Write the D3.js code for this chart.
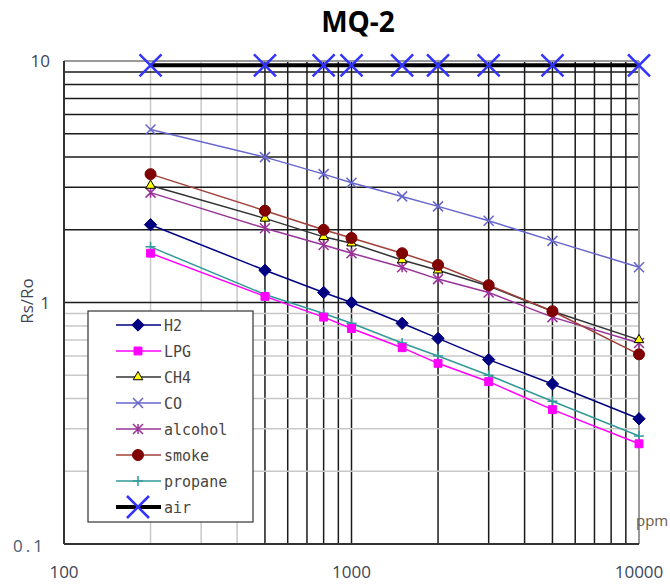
<!DOCTYPE html>
<html>
<head>
<meta charset="utf-8">
<script src="https://cdn.jsdelivr.net/npm/d3@7"></script>
<style>
  body { margin: 0; background: #fff; }
  svg { display: block; }
</style>
</head>
<body>
<svg id="chart" width="670" height="584"></svg>
<script>
// concentration (ppm) where the curves were sampled
const ppm = [200, 500, 800, 1000, 1500, 2000, 3000, 5000, 10000];

// Rs/Ro readings per gas
const h2 = [2.1, 1.36, 1.1, 1.0, 0.82, 0.71, 0.58, 0.46, 0.33];
const lpg = [1.6, 1.06, 0.87, 0.78, 0.65, 0.56, 0.47, 0.36, 0.26];
const ch4 = [3.05, 2.23, 1.87, 1.76, 1.5, 1.36, 1.17, 0.92, 0.70];
const co = [5.2, 4.0, 3.4, 3.13, 2.75, 2.5, 2.18, 1.8, 1.4];
const alcohol = [2.85, 2.03, 1.73, 1.6, 1.4, 1.25, 1.1, 0.87, 0.68];
const smoke = [3.4, 2.4, 2.0, 1.85, 1.6, 1.43, 1.18, 0.92, 0.61];
const propane = [1.7, 1.08, 0.9, 0.82, 0.68, 0.6, 0.5, 0.39, 0.28];
const air = [9.6, 9.6, 9.6, 9.6, 9.6, 9.6, 9.6, 9.6, 9.6];

const seriesNames = ["H2", "LPG", "CH4", "CO", "alcohol", "smoke", "propane", "air"];
const xTicks = [100, 1000, 10000];
const yTicks = [0.1, 1, 10];

let svg = d3.select("#chart");
let margin = { left: 64, right: 31, top: 61, bottom: 40 };
let width = +svg.attr("width");
let height = +svg.attr("height");

let x = d3.scaleLog().domain([100, 10000]).range([margin.left, width - margin.right]);
let y = d3.scaleLog().domain([0.1, 10]).range([height - margin.bottom, margin.top]);

// style of each series: line colour, marker, marker fill/stroke
let styles = {
    "H2": { line: "#000080", width: 1.5, sym: "diamond", fill: "#000080", stroke: "#000080", size: 11 },
    "LPG": { line: "#ff00ff", width: 1.5, sym: "square", fill: "#ff00ff", stroke: "#ff00ff", size: 10 },
    "CH4": { line: "#333333", width: 1.5, sym: "triangle", fill: "#ffff00", stroke: "#000000", size: 9 },
    "CO": { line: "#6666cc", width: 1.5, sym: "x", fill: "none", stroke: "#6666cc", size: 10 },
    "alcohol": { line: "#993399", width: 1.5, sym: "star", fill: "none", stroke: "#993399", size: 10 },
    "smoke": { line: "#a0403a", width: 1.5, sym: "circle", fill: "#800000", stroke: "#800000", size: 11 },
    "propane": { line: "#339999", width: 1.5, sym: "plus", fill: "none", stroke: "#339999", size: 10 },
    "air": { line: "#000000", width: 4, sym: "x", fill: "none", stroke: "#3333ff", size: 22 }
};
let values = { "H2": h2, "LPG": lpg, "CH4": ch4, "CO": co, "alcohol": alcohol,
               "smoke": smoke, "propane": propane, "air": air };

// gridlines
let grid = svg.append("g");
let xMinor = [];
[100, 1000].forEach(d => { for (let k = 1; k < 10; k++) xMinor.push(d * k); });
xMinor.push(10000);
xMinor.forEach(v => {
    let light = v < 500;
    grid.append("line")
        .attr("x1", x(v)).attr("x2", x(v))
        .attr("y1", y(0.1)).attr("y2", y(10))
        .attr("stroke", light ? "#c8c8c8" : "#1a1a1a")
        .attr("stroke-width", 1.5);
});
let yMinor = [];
[0.1, 1].forEach(d => { for (let k = 1; k < 10; k++) yMinor.push(+(d * k).toFixed(2)); });
yMinor.forEach(v => {
    let light = v < 1;
    grid.append("line")
        .attr("x1", x(100)).attr("x2", x(10000))
        .attr("y1", y(v)).attr("y2", y(v))
        .attr("stroke", light ? "#c8c8c8" : "#1a1a1a")
        .attr("stroke-width", 1.5);
});

// frame: top/right grey, left/bottom dark
svg.append("line").attr("x1", x(100)).attr("x2", x(10000)).attr("y1", y(10)).attr("y2", y(10))
    .attr("stroke", "#999").attr("stroke-width", 2);
svg.append("line").attr("x1", x(10000)).attr("x2", x(10000)).attr("y1", y(10)).attr("y2", y(0.1))
    .attr("stroke", "#999").attr("stroke-width", 2);
svg.append("line").attr("x1", x(100)).attr("x2", x(100)).attr("y1", y(10)).attr("y2", y(0.1))
    .attr("stroke", "#333").attr("stroke-width", 2);
svg.append("line").attr("x1", x(100)).attr("x2", x(10000)).attr("y1", y(0.1)).attr("y2", y(0.1))
    .attr("stroke", "#333").attr("stroke-width", 2);

function markerPath(sym, s) {
    let h = s / 2;
    if (sym === "x") return `M${-h},${-h}L${h},${h}M${-h},${h}L${h},${-h}`;
    if (sym === "plus") return `M0,${-h}L0,${h}M${-h},0L${h},0`;
    if (sym === "star") return `M${-h},${-h}L${h},${h}M${-h},${h}L${h},${-h}M0,${-h}L0,${h}`;
    let type = { diamond: d3.symbolDiamond2, square: d3.symbolSquare2, triangle: d3.symbolTriangle2, circle: d3.symbolCircle }[sym];
    let area = sym === "circle" ? Math.PI * h * h : s * s * 0.8;
    return d3.symbol().type(type).size(area)();
}

function drawMarker(g, name, cx, cy) {
    let st = styles[name];
    let open = st.fill === "none";
    g.append("path")
        .attr("d", markerPath(st.sym, st.size))
        .attr("transform", `translate(${cx},${cy})`)
        .attr("fill", st.fill)
        .attr("stroke", st.stroke)
        .attr("stroke-width", name === "air" ? 2.5 : (open ? 1.5 : 1));
}

let line = d3.line().x((d, i) => x(ppm[i])).y(d => y(d));

// draw series, air last on top
let order = ["propane", "LPG", "H2", "alcohol", "CH4", "smoke", "CO", "air"];
order.forEach(name => {
    let st = styles[name];
    let g = svg.append("g");
    g.append("path")
        .datum(values[name])
        .attr("d", line)
        .attr("fill", "none")
        .attr("stroke", st.line)
        .attr("stroke-width", st.width);
    values[name].forEach((v, i) => drawMarker(g, name, x(ppm[i]), y(v)));
});

// axis labels
svg.selectAll(".xtick").data(xTicks).enter().append("text")
    .attr("x", d => x(d)).attr("y", 578)
    .attr("text-anchor", "middle")
    .attr("font-family", "Open Sans, sans-serif").attr("font-size", 17)
    .attr("fill", "#3d4656")
    .text(d => d);

svg.selectAll(".ytick").data(yTicks).enter().append("text")
    .attr("x", d => d === 0.1 ? 46 : 50).attr("y", d => y(d) + (d === 0.1 ? 8 : 6))
    .attr("text-anchor", "end")
    .attr("font-family", "Open Sans, sans-serif")
    .attr("letter-spacing", d => d === 0.1 ? 3 : 0)
    .attr("font-size", 17)
    .attr("fill", d => d === 0.1 ? "#4a5a70" : "#3d4656")
    .text(d => d === 0.1 ? "0.1" : d);

svg.append("text")
    .attr("transform", "translate(33,301) rotate(-90)")
    .attr("text-anchor", "middle")
    .attr("font-family", "Open Sans, sans-serif").attr("font-size", 17)
    .attr("fill", "#3d4656")
    .text("Rs/Ro");

svg.append("text")
    .attr("x", 636).attr("y", 526)
    .attr("font-family", "Open Sans, sans-serif").attr("font-size", 15)
    .attr("fill", "#6a5a4a")
    .text("ppm");

svg.append("text")
    .attr("x", 358).attr("y", 32)
    .attr("text-anchor", "middle")
    .attr("font-family", "Open Sans, sans-serif").attr("font-size", 28)
    .attr("font-weight", "bold")
    .attr("fill", "#000")
    .text("MQ-2");

// legend
let legend = svg.append("g");
legend.append("rect")
    .attr("x", 88).attr("y", 311).attr("width", 165).attr("height", 211)
    .attr("fill", "#fff").attr("stroke", "#333").attr("stroke-width", 1.2);
seriesNames.forEach((name, i) => {
    let ly = 325 + i * 26;
    let st = styles[name];
    legend.append("line")
        .attr("x1", 116).attr("x2", 161).attr("y1", ly).attr("y2", ly)
        .attr("stroke", st.line).attr("stroke-width", st.width);
    drawMarker(legend, name, 138, ly);
    legend.append("text")
        .attr("x", 164).attr("y", ly + 6)
        .attr("font-family", "DejaVu Sans Mono, monospace").attr("font-size", 15)
        .attr("fill", "#4a4540")
        .text(name);
});
</script>
</body>
</html>
